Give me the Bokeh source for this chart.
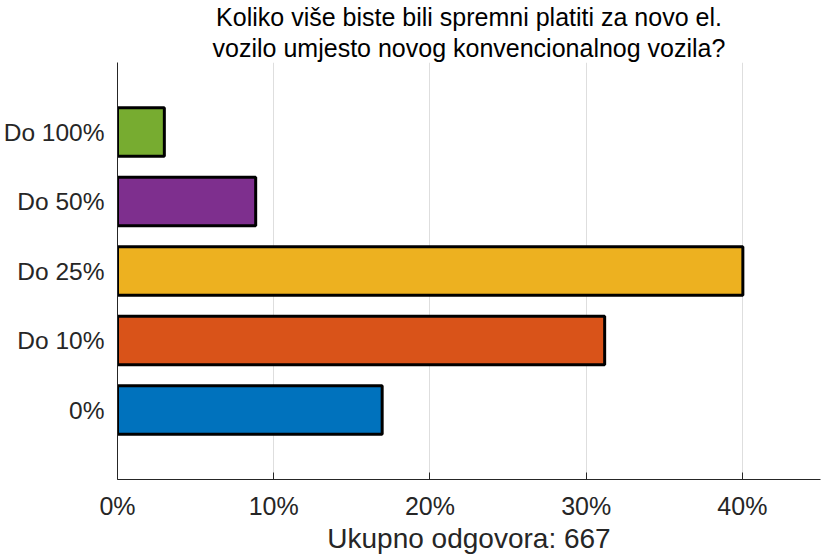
from bokeh.plotting import figure
from bokeh.models import Range1d, FixedTicker, Title
from bokeh.embed import file_html
from bokeh.resources import INLINE

categories = ["0%", "Do 10%", "Do 25%", "Do 50%", "Do 100%"]
counts = [113, 208, 267, 59, 20]
total = 667
colors = ["#0072BD", "#D95319", "#EDB120", "#7E2F8E", "#77AC30"]
x_ticks = [0, 10, 20, 30, 40]
x_tick_labels = ["0%", "10%", "20%", "30%", "40%"]
title_lines = ["Koliko više biste bili spremni platiti za novo el.",
               "vozilo umjesto novog konvencionalnog vozila?"]
xlabel = "Ukupno odgovora: %d" % total

percent = [c / total * 100 for c in counts]
ypos = list(range(1, len(categories) + 1))

FONT = "Liberation Sans"
AX = "#262626"

p = figure(width=822, height=558, output_backend="svg", toolbar_location=None,
           x_range=Range1d(0, 45), y_range=Range1d(0, 6),
           min_border_left=117, min_border_right=2, min_border_top=61, min_border_bottom=79)
p.title = None
p.outline_line_color = None
p.background_fill_color = "white"
p.border_fill_color = "white"

p.hbar(y=ypos, left=0, right=percent, height=0.7, fill_color=colors,
       line_color="black", line_width=3)

# x axis
xa = p.xaxis[0]
xa.ticker = FixedTicker(ticks=x_ticks)
xa.major_label_overrides = {t: l for t, l in zip(x_ticks, x_tick_labels)}
xa.minor_tick_line_color = None
xa.major_tick_in = 7
xa.major_tick_out = 0
xa.axis_line_color = AX
xa.major_tick_line_color = AX
xa.major_label_text_font = FONT
xa.major_label_text_font_size = "25px"
xa.major_label_text_color = AX
xa.major_label_standoff = 12
xa.axis_label = xlabel
xa.axis_label_text_font = FONT
xa.axis_label_text_font_size = "28px"
xa.axis_label_text_font_style = "normal"
xa.axis_label_text_color = AX
xa.axis_label_standoff = 0

# y axis
ya = p.yaxis[0]
ya.ticker = FixedTicker(ticks=ypos)
ya.major_label_overrides = {y: c for y, c in zip(ypos, categories)}
ya.minor_tick_line_color = None
ya.major_tick_line_color = None
ya.major_tick_in = 0
ya.major_tick_out = 0
ya.axis_line_color = AX
ya.major_label_text_font = FONT
ya.major_label_text_font_size = "24.5px"
ya.major_label_text_color = AX
ya.major_label_standoff = 13

# grid
p.xgrid.grid_line_color = "#dedede"
p.xgrid.grid_line_width = 1
p.ygrid.grid_line_color = None

# title (two lines, stacked; first added is closest to the plot)
t2 = Title(text=title_lines[1], align="center", text_font=FONT, text_font_size="25px",
           text_font_style="normal", text_color="black", standoff=2)
t1 = Title(text=title_lines[0], align="center", text_font=FONT, text_font_size="25px",
           text_font_style="normal", text_color="black", standoff=0)
p.add_layout(t2, "above")
p.add_layout(t1, "above")

open("out.html", "w").write(file_html(p, INLINE))
